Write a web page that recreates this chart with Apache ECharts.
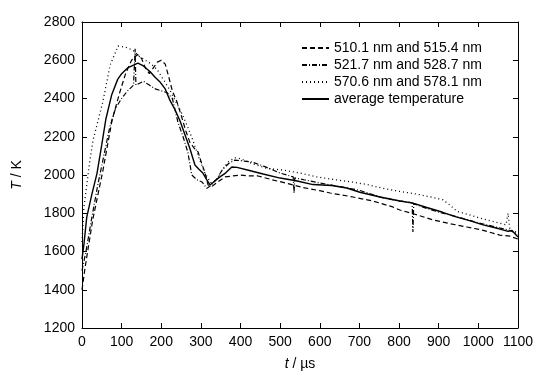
<!DOCTYPE html>
<html>
<head>
<meta charset="utf-8">
<script src="https://cdn.jsdelivr.net/npm/echarts@6/dist/echarts.min.js"></script>
<style>
html,body{margin:0;padding:0;background:#fff;}
#c{width:536px;height:378px;}
</style>
</head>
<body>
<div id="c"></div>
<script>
var seriesNames = ['510.1 nm and 515.4 nm', '521.7 nm and 528.7 nm', '570.6 nm and 578.1 nm', 'average temperature'];
var xTicks = [0,100,200,300,400,500,600,700,800,900,1000,1100];
var yTicks = [1200,1400,1600,1800,2000,2200,2400,2600,2800];

var tDashed = [0, 8, 27, 53, 76, 95, 110, 125, 140, 150, 160, 170, 180, 190, 200, 210, 218, 228, 240, 252, 262, 272, 283, 293, 302, 310, 318, 328, 340, 361, 380, 400, 424, 444, 480, 520, 557, 600, 626, 684, 734, 784, 802, 840, 886, 930, 971, 1010, 1054, 1080, 1100];
var vDashed = [1400, 1519, 1765, 2026, 2288, 2430, 2530, 2600, 2630, 2610, 2560, 2530, 2560, 2590, 2600, 2580, 2520, 2440, 2380, 2300, 2230, 2172, 2140, 2120, 2060, 2015, 1948, 1940, 1960, 1990, 1995, 2000, 1995, 1995, 1975, 1955, 1935, 1918, 1906, 1885, 1864, 1833, 1817, 1795, 1765, 1745, 1728, 1712, 1686, 1680, 1665];

var tDashDot = [0, 10, 25, 40, 55, 70, 85, 100, 115, 130, 134, 136, 140, 155, 170, 185, 200, 215, 228, 242, 255, 267, 277, 290, 303, 315, 325, 340, 355, 370, 386, 400, 429, 460, 500, 533, 535, 537, 560, 600, 650, 700, 760, 800, 833, 835, 837, 870, 910, 950, 1000, 1050, 1080, 1100];
var vDashDot = [1500, 1600, 1780, 1950, 2100, 2250, 2350, 2400, 2440, 2470, 2660, 2470, 2480, 2490, 2470, 2450, 2440, 2430, 2400, 2277, 2200, 2120, 2000, 1975, 1963, 1930, 1945, 1980, 2030, 2060, 2078, 2075, 2068, 2045, 2010, 1990, 1905, 1985, 1975, 1958, 1940, 1920, 1880, 1865, 1855, 1702, 1850, 1825, 1800, 1780, 1750, 1725, 1710, 1690];

var tDotted = [0, 5, 20, 28, 41, 53, 71, 91, 105, 116, 130, 145, 160, 175, 190, 205, 220, 235, 250, 265, 280, 295, 310, 325, 340, 355, 370, 386, 400, 429, 466, 510, 550, 593, 640, 676, 720, 760, 800, 845, 880, 911, 930, 946, 980, 1012, 1050, 1070, 1075, 1080, 1100];
var vDotted = [1650, 1833, 2078, 2183, 2288, 2387, 2575, 2674, 2670, 2664, 2650, 2620, 2600, 2580, 2550, 2500, 2450, 2390, 2330, 2260, 2180, 2090, 2010, 1960, 1975, 2030, 2070, 2090, 2085, 2060, 2035, 2025, 2010, 1990, 1975, 1965, 1950, 1930, 1915, 1900, 1885, 1870, 1840, 1810, 1790, 1770, 1750, 1740, 1800, 1710, 1700];

var tAvg = [0, 5, 12, 25, 38, 50, 60, 75, 90, 100, 115, 130, 141, 155, 172, 185, 197, 210, 222, 235, 248, 260, 272, 285, 295, 305, 315, 323, 333, 348, 362, 378, 391, 420, 457, 500, 540, 583, 630, 668, 701, 752, 802, 835, 870, 910, 946, 980, 1012, 1050, 1075, 1085, 1100];
var vAvg = [1560, 1640, 1780, 1900, 2010, 2160, 2290, 2420, 2500, 2530, 2560, 2575, 2585, 2570, 2540, 2510, 2486, 2450, 2390, 2340, 2280, 2209, 2140, 2052, 2030, 2010, 1975, 1948, 1965, 1990, 2010, 2042, 2040, 2025, 2005, 1984, 1970, 1950, 1945, 1932, 1910, 1885, 1864, 1853, 1830, 1805, 1780, 1760, 1739, 1720, 1705, 1710, 1676];

function zip(t, v){ var o=[]; for(var i=0;i<t.length;i++) o.push([t[i], v[i]]); return o; }

var font = 'Liberation Sans, Arial, sans-serif';
var chart = echarts.init(document.getElementById('c'), null, {renderer:'canvas'});
function axisBase(extra){
  var o = {
    axisLine:{show:true, onZero:false, lineStyle:{color:'#000', width:1}},
    axisTick:{show:true, inside:true, length:5, lineStyle:{color:'#000', width:1}},
    splitLine:{show:false}
  };
  for (var k in extra) o[k] = extra[k];
  return o;
}
var labelStyle = {fontFamily:font, fontSize:14, color:'#000', margin:7, formatter:function(v){return String(v);}};
var nameStyle = {fontFamily:font, fontSize:14, color:'#000', rich:{i:{fontStyle:'italic', fontFamily:font, fontSize:14, color:'#000'}}};
function mkLine(name, data, type, w){
  return {name:name, type:'line', data:data, symbol:'none', showSymbol:false,
    lineStyle:{color:'#000', width:w, type:type}, itemStyle:{color:'#000'}, z:3};
}
chart.setOption({
  animation:false,
  backgroundColor:'#fff',
  grid:{left:82, right:18, top:22, bottom:50},
  legend:{
    orient:'vertical', left:301, top:41, itemWidth:27, itemHeight:14, itemGap:3, padding:0,
    itemStyle:{opacity:0},
    textStyle:{fontFamily:font, fontSize:14, color:'#000'},
    data:seriesNames
  },
  xAxis:[
    axisBase({type:'value', min:0, max:1100, interval:100, position:'bottom',
      name:'{i|t} / µs', nameLocation:'middle', nameGap:29, nameTextStyle:nameStyle, axisLabel:labelStyle}),
    axisBase({type:'value', min:0, max:1100, interval:100, position:'top', axisLabel:{show:false}})
  ],
  yAxis:[
    axisBase({type:'value', min:1200, max:2800, interval:200, position:'left',
      name:'{i|T} / K', nameLocation:'middle', nameGap:58, nameTextStyle:nameStyle, axisLabel:labelStyle}),
    axisBase({type:'value', min:1200, max:2800, interval:200, position:'right', axisLabel:{show:false}})
  ],
  series:[
    mkLine(seriesNames[0], zip(tDashed, vDashed), [5,3], 1.2),
    mkLine(seriesNames[1], zip(tDashDot, vDashDot), [5,2,1,2], 1.2),
    mkLine(seriesNames[2], zip(tDotted, vDotted), [1,3], 1.3),
    mkLine(seriesNames[3], zip(tAvg, vAvg), 'solid', 1.4)
  ]
});
</script>
</body>
</html>
